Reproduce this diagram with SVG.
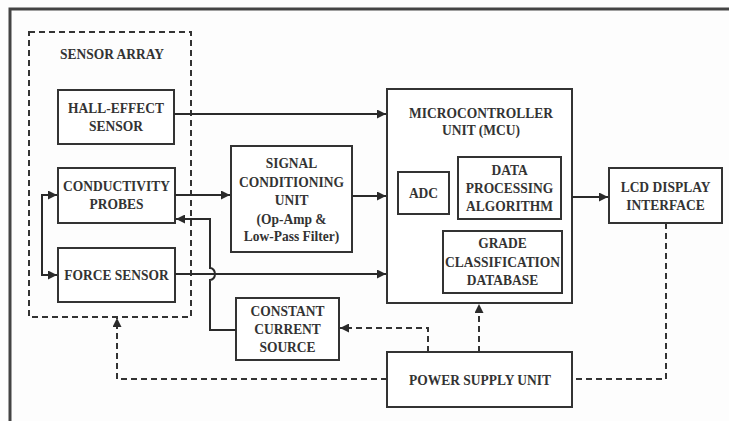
<svg xmlns="http://www.w3.org/2000/svg" width="729" height="421" viewBox="0 0 729 421">
<defs>
<marker id="ah" viewBox="0 0 10 10" refX="10" refY="5" markerWidth="10" markerHeight="9" markerUnits="userSpaceOnUse" orient="auto">
<path d="M0,0 L10,5 L0,10 Z" fill="#2a2a2a"/>
</marker>
</defs>
<style>
.box{fill:#fff;stroke:#333;stroke-width:2}
.dbox{fill:none;stroke:#333;stroke-width:2;stroke-dasharray:6 4}
.ln{fill:none;stroke:#2a2a2a;stroke-width:2}
.dl{fill:none;stroke:#333;stroke-width:2;stroke-dasharray:6 4}
text{font-family:"Liberation Serif","Times New Roman",serif;font-weight:bold;font-size:15px;fill:#333;text-anchor:middle;transform-box:fill-box;transform-origin:center;transform:scaleX(0.9)}
</style>
<rect width="729" height="421" fill="#fdfdfd"/>
<g id="frame">
<path d="M10,421 L10,9 L729,9" fill="none" stroke="#444" stroke-width="3"/>
</g>
<g id="sensor-array">
<rect class="dbox" x="29" y="32" width="162" height="285"/>
<text x="112" y="59">SENSOR ARRAY</text>
</g>
<g id="hall">
<rect class="box" x="58" y="90" width="116" height="54"/>
<text x="116" y="113">HALL-EFFECT</text>
<text x="116" y="131">SENSOR</text>
</g>
<g id="conductivity">
<rect class="box" x="58" y="168" width="117" height="55"/>
<text x="116.5" y="191">CONDUCTIVITY</text>
<text x="116.5" y="209">PROBES</text>
</g>
<g id="force">
<rect class="box" x="58" y="248" width="117" height="54"/>
<text x="116.5" y="280">FORCE SENSOR</text>
</g>
<g id="scu">
<rect class="box" x="231" y="146" width="121" height="106"/>
<text x="291.5" y="168">SIGNAL</text>
<text x="291.5" y="187">CONDITIONING</text>
<text x="291.5" y="205">UNIT</text>
<text x="291.5" y="224">(Op-Amp &amp;</text>
<text x="291.5" y="241">Low-Pass Filter)</text>
</g>
<g id="mcu">
<rect class="box" x="387" y="89" width="185" height="214"/>
<text x="481" y="118">MICROCONTROLLER</text>
<text x="481" y="135">UNIT (MCU)</text>
</g>
<g id="adc">
<rect class="box" x="398" y="172" width="51" height="42"/>
<text x="423.5" y="198">ADC</text>
</g>
<g id="dpa">
<rect class="box" x="458" y="157" width="103" height="62"/>
<text x="509.5" y="175">DATA</text>
<text x="509.5" y="193">PROCESSING</text>
<text x="509.5" y="211">ALGORITHM</text>
</g>
<g id="gcd">
<rect class="box" x="443" y="231" width="119" height="62"/>
<text x="502.5" y="248">GRADE</text>
<text x="502.5" y="267">CLASSIFICATION</text>
<text x="502.5" y="285">DATABASE</text>
</g>
<g id="lcd">
<rect class="box" x="609" y="168" width="113" height="55"/>
<text x="665.5" y="192">LCD DISPLAY</text>
<text x="665.5" y="210">INTERFACE</text>
</g>
<g id="ccs">
<rect class="box" x="236" y="298" width="103" height="62"/>
<text x="287.5" y="316">CONSTANT</text>
<text x="287.5" y="334">CURRENT</text>
<text x="287.5" y="352">SOURCE</text>
</g>
<g id="psu">
<rect class="box" x="387" y="352" width="185" height="55"/>
<text x="480" y="385">POWER SUPPLY UNIT</text>
</g>
<g id="connectors">
<path class="ln" d="M174,114 L386,114" marker-end="url(#ah)"/>
<path class="ln" d="M175,195 L230,195" marker-end="url(#ah)"/>
<path class="ln" d="M352,196 L386,196" marker-end="url(#ah)"/>
<path class="ln" d="M175,274 L386,274" marker-end="url(#ah)"/>
<path class="ln" d="M572,197 L608,197" marker-end="url(#ah)"/>
<path class="ln" d="M42,235 L42,195 L57,195" marker-end="url(#ah)"/>
<path class="ln" d="M42,235 L42,275 L57,275" marker-end="url(#ah)"/>
<path class="ln" d="M236,330 L210,330 L210,280 A5,6 0 0 0 210,268 L210,219 L176,219" marker-end="url(#ah)"/>
<path class="dl" d="M428,352 L428,328 L340,328" marker-end="url(#ah)"/>
<path class="dl" d="M479,352 L479,304" marker-end="url(#ah)"/>
<path class="dl" d="M387,379 L117,379 L117,318" marker-end="url(#ah)"/>
<path class="dl" d="M666,223 L666,379 L572,379"/>
</g>
</svg>
